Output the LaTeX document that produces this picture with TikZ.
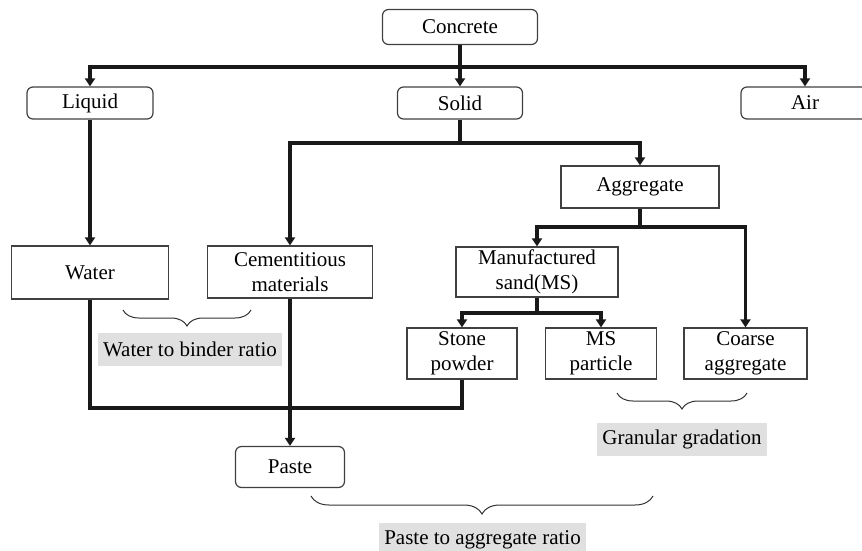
\documentclass[tikz,border=0pt]{standalone}
\usepackage{fontspec}
\setmainfont{Liberation Serif}
\usetikzlibrary{arrows.meta,decorations.pathreplacing}

\tikzset{
	rbox/.style={draw=black!75, line width=1.2pt, rounded corners=6pt, align=center, inner sep=0pt},
	sbox/.style={draw=black!75, line width=1.2pt, align=center, inner sep=0pt},
	wire/.style={line width=3.3pt, black!90},
	arr/.style={wire, -{Triangle[length=8pt, width=10pt]}},
	ratio/.style={fill=black!12, inner xsep=5pt, minimum height=33pt},
	brc/.style={draw=black!80, line width=1pt, decorate, decoration={brace, mirror, amplitude=16pt}}
}

\begin{document}
\begin{tikzpicture}[x=1pt, y=-1pt, font=\fontsize{21}{25}\selectfont]
				\useasboundingbox (0, 0) rectangle (862, 551);
				% Paths, nodes and wires:
				\node[rbox, minimum width=155pt, minimum height=35pt] (concrete) at (460, 27){Concrete};
				\node[rbox, minimum width=126pt, minimum height=32pt] (liquid) at (90, 103){Liquid};
				\node[rbox, minimum width=125pt, minimum height=32pt] (solid) at (460, 103){Solid};
				\node[rbox, minimum width=128pt, minimum height=32pt] (air) at (805, 103){Air};
				\node[sbox, minimum width=158pt, minimum height=42pt] (aggregate) at (640, 187){Aggregate};
				\node[sbox, minimum width=157pt, minimum height=53pt] (water) at (90, 272.5){Water};
				\node[sbox, minimum width=165pt, minimum height=52pt] (cement) at (290, 272){Cementitious\\materials};
				\node[sbox, minimum width=162pt, minimum height=50pt] (mansand) at (537, 272){Manufactured\\sand(MS)};
				\node[sbox, minimum width=110pt, minimum height=51pt] (stone) at (462, 353.5){Stone\\powder};
				\node[sbox, minimum width=111pt, minimum height=51pt] (msp) at (601, 353.5){MS\\particle};
				\node[sbox, minimum width=123pt, minimum height=51pt] (coarse) at (745.5, 353.5){Coarse\\aggregate};
				\node[rbox, minimum width=109pt, minimum height=41pt] (paste) at (290, 467){Paste};
				\coordinate (cbus) at (460, 67);
				\coordinate (sbus) at (460, 143);
				\coordinate (abus) at (640, 227);
				\coordinate (mbus) at (537, 313);
				\coordinate (pbus) at (290, 408);
				\draw[wire] (concrete) -- (cbus);
				\draw[arr] (cbus) -| (liquid);
				\draw[arr] (cbus) -- (solid);
				\draw[arr] (cbus) -| (air);
				\draw[arr] (liquid) -- (water);
				\draw[wire] (solid) -- (sbus);
				\draw[arr] (sbus) -| (cement);
				\draw[arr] (sbus) -| (aggregate);
				\draw[wire] (aggregate) -- (abus);
				\draw[arr] (abus) -| (mansand);
				\draw[arr] (abus) -| (coarse);
				\draw[wire] (mansand) -- (mbus);
				\draw[arr] (mbus) -| (stone);
				\draw[arr] (mbus) -| (msp);
				\draw[wire] (water) |- (pbus);
				\draw[wire] (stone) |- (pbus);
				\draw[arr] (cement) -- (paste);
				% braces and ratios
				\draw[brc] (123, 310) -- (251, 310);
				\node[ratio] (wbr) at (190, 349.5){Water to binder ratio};
				\draw[brc] (617, 393) -- (747, 393);
				\node[ratio] (gg) at (682, 439.5){Granular gradation};
				\draw[brc, decoration={amplitude=18pt}] (311, 496) -- (653, 496);
				\node[ratio] (par) at (482.5, 539.5){Paste to aggregate ratio};
			\end{tikzpicture}
\end{document}
